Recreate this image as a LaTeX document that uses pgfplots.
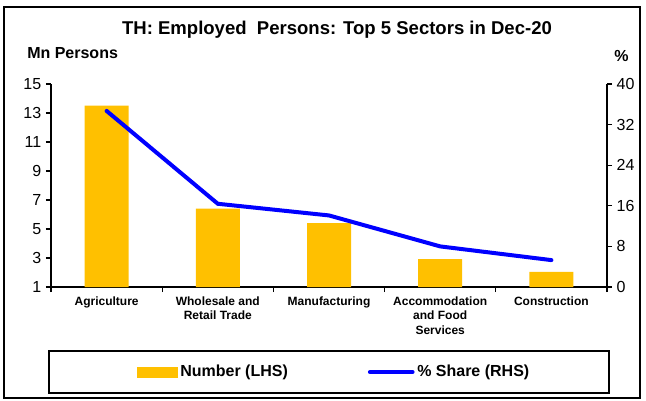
\documentclass[border=0pt]{standalone}
\usepackage{fontspec}
\setmainfont{Liberation Sans}
\usepackage{pgfplots}
\pgfplotsset{compat=1.18}
\definecolor{bargold}{HTML}{FFC000}
\definecolor{lineblue}{HTML}{0000FF}

\begin{document}
\begin{tikzpicture}[x=0.75pt,y=0.75pt]
% picture coordinates: pixels of the 646x400 frame, origin bottom left
\useasboundingbox (0,0) rectangle (646,400);
\draw[line width=1pt] (4,2) rectangle (640,393);
\draw[line width=1pt] (49,7) rectangle (609,49);
\node[font=\bfseries\fontsize{13.9}{16}\selectfont, anchor=base, inner sep=0] at (337,365) {TH: Employed\ \ Persons: Top 5 Sectors in Dec-20};
\node[font=\bfseries\fontsize{12}{14}\selectfont, anchor=base west, inner sep=0] at (27,341) {Mn Persons};
\node[font=\bfseries\fontsize{12}{14}\selectfont, anchor=base west, inner sep=0] at (614,338) {\%};

\begin{axis}[
  at={(38.25pt,84.75pt)}, anchor=south west,
  scale only axis, width=417pt, height=152.25pt,
  xmin=-0.5, xmax=4.5, ymin=1, ymax=15,
  axis x line*=bottom, axis y line*=left,
  axis line style={-, black, line width=1pt},
  ytick={1,3,...,15},
  xtick={0,...,4},
  xticklabels={Agriculture, Wholesale and\\Retail Trade, Manufacturing, Accommodation\\and Food\\Services, Construction},
  minor xtick={-0.5,0.5,...,4.5},
  major x tick style={draw=none},
  tick align=outside,
  tick style={black, line width=1pt},
  major tick length=3.75pt, minor tick length=3.75pt,
  /pgf/number format/assume math mode=true,
  yticklabel style={font=\fontsize{12}{14}\selectfont},
  xticklabel style={font=\bfseries\fontsize{9}{10.9}\selectfont, align=center, anchor=north},
]
\addplot[ybar, bar width=33pt, fill=bargold, draw=none, forget plot]
  coordinates {(0,13.5) (1,6.4) (2,5.4) (3,2.93) (4,2.05)};
\end{axis}

\begin{axis}[
  at={(38.25pt,84.75pt)}, anchor=south west,
  scale only axis, width=417pt, height=152.25pt,
  xmin=-0.5, xmax=4.5, ymin=0, ymax=40,
  axis x line=none, axis y line*=right,
  axis line style={-, black, line width=1pt},
  ytick={0,8,...,40},
  tick align=outside,
  tick style={black, line width=1pt},
  major tick length=3.75pt,
  /pgf/number format/assume math mode=true,
  yticklabel style={font=\fontsize{12}{14}\selectfont},
  legend columns=2,
  legend style={at={(0.51,-0.419)}, anchor=center, draw=none, fill=none,
    font=\bfseries\fontsize{12}{14}\selectfont,
    /tikz/every even column/.append style={column sep=58pt}},
]
\addlegendimage{legend image code/.code={\fill[bargold] (0pt,-3.75pt) rectangle (30pt,3.75pt);}}
\addlegendentry{Number (LHS)}
\addplot[lineblue, line width=3pt, line cap=round,
  legend image code/.code={\draw[lineblue, line width=3pt, line cap=round] (0pt,0pt) -- (32pt,0pt);}]
  coordinates {(0,34.7) (1,16.4) (2,14.1) (3,8.0) (4,5.3)};
\addlegendentry{\% Share (RHS)}
\end{axis}
\end{tikzpicture}
\end{document}
